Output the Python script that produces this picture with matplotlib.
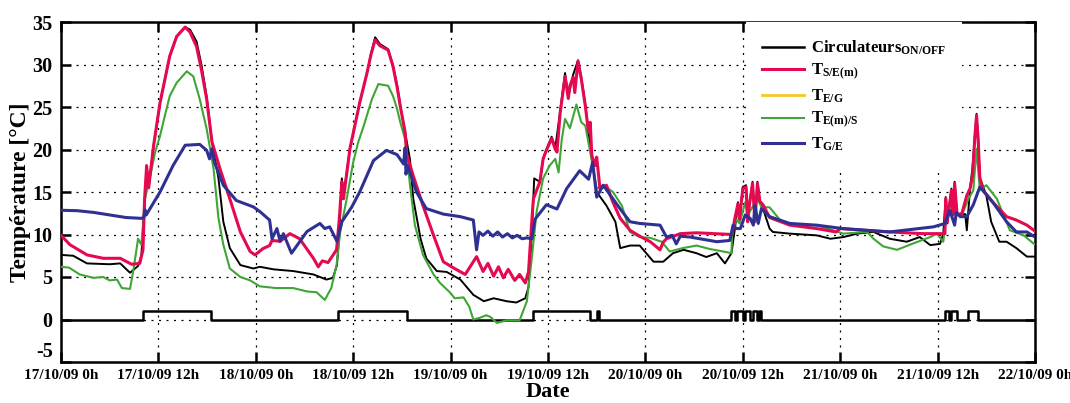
import numpy as np
import matplotlib
matplotlib.use("Agg")
import matplotlib.pyplot as plt

# ---------------- data (hours since 17/10/09 0h) ----------------
x_tick_hours = [0, 12, 24, 36, 48, 60, 72, 84, 96, 108, 120]
x_tick_labels = ["17/10/09 0h", "17/10/09 12h", "18/10/09 0h", "18/10/09 12h",
                 "19/10/09 0h", "19/10/09 12h", "20/10/09 0h", "20/10/09 12h",
                 "21/10/09 0h", "21/10/09 12h", "22/10/09 0h"]
y_ticks = [-5, 0, 5, 10, 15, 20, 25, 30, 35]

# circulators ON periods (start, end) in hours
circ_on_start = [10.1, 34.1, 58.1, 66.0, 82.6, 83.3, 84.3, 85.3, 86.0, 108.9, 109.6, 111.7]
circ_on_end = [18.5, 42.6, 65.2, 66.3, 83.0, 84.0, 84.9, 85.7, 86.3, 109.4, 110.4, 113.0]

# black temperature curve
t_noir_h = [0, 1.5, 3.2, 6.0, 7.3, 8.5, 9.5, 9.9, 10.35, 10.55, 10.8, 11.4, 12.2, 13.4, 14.25,
            15.3, 15.9, 16.7, 17.3, 17.95, 18.6, 19.4, 20.0, 20.8, 22.1, 23.7, 24.5, 26.2,
            28.6, 31.1, 32.7, 33.5, 34.0, 34.3, 34.6, 34.8, 35.6, 36.8, 37.7, 38.2, 38.7,
            39.3, 40.3, 40.9, 41.4, 41.8, 42.4, 43.0, 43.4, 44.3, 45.0, 46.3, 47.5, 49.2,
            50.8, 52.1, 53.3, 54.9, 56.1, 57.2, 57.6, 58.0, 58.3, 59.0, 59.4, 59.8, 60.45,
            60.9, 61.5, 62.1, 62.5, 63.1, 63.7, 64.1, 64.6, 65.0, 65.3, 66.0, 67.2, 68.3,
            68.9, 70.1, 71.3, 72.1, 73.0, 74.2, 75.4, 76.7, 78.3, 79.5, 80.8, 81.8, 82.6,
            83.0, 83.2, 83.4, 83.6, 84.0, 84.4, 84.6, 84.8, 85.2, 85.5, 85.8, 86.1, 86.5,
            87.3, 87.7, 89.8, 93.1, 94.8, 96.4, 98.1, 100.1, 102.1, 104.2, 105.8, 107.1,
            108.3, 108.7, 109.0, 109.2, 109.7, 109.9, 110.1, 110.4, 111.0, 111.4, 111.6,
            112.0, 112.3, 112.6, 112.8, 113.0, 113.2, 114.0, 114.6, 115.6, 116.5, 117.7,
            119.0, 120]
t_noir = [7.6, 7.5, 6.6, 6.5, 6.6, 5.5, 6.3, 7.5, 14.2, 18.1, 15.5, 20.4, 25.5, 31.0, 33.3,
          34.4, 34.1, 32.7, 30.0, 26.2, 20.9, 16.6, 11.5, 8.4, 6.4, 6.0, 6.2, 5.9,
          5.7, 5.3, 4.7, 4.9, 6.4, 10.3, 16.6, 14.5, 20.1, 25.5, 29.0, 31.3, 33.2,
          32.4, 31.8, 29.9, 27.6, 25.2, 22.0, 18.8, 14.2, 9.5, 7.2, 5.7, 5.6, 4.7,
          2.9, 2.15, 2.5, 2.15, 2.0, 2.5, 3.8, 10.0, 16.6, 16.2, 18.9, 20.0, 21.5,
          20.2, 24.5, 29.0, 26.2, 28.8, 30.5, 28.5, 25.3, 22.0, 19.5, 15.0, 13.4, 11.5,
          8.4, 8.7, 8.7, 7.8, 6.8, 6.8, 7.8, 8.2, 7.8, 7.35, 7.8, 6.6, 7.8,
          10.5, 12.0, 13.8, 11.8, 15.6, 15.8, 11.5, 13.4, 16.2, 11.5, 16.2, 13.9, 13.0,
          10.7, 10.3, 10.1, 9.9, 9.5, 9.7, 10.1, 10.3, 9.5, 9.15, 9.7, 8.75,
          8.9, 10.1, 14.4, 11.3, 15.4, 12.3, 16.2, 12.3, 12.4, 12.4, 10.5,
          15.4, 17.9, 21.8, 24.2, 21.2, 16.7, 14.6, 11.5, 9.15, 9.15, 8.4,
          7.4, 7.4]

# T_S/E(m)
t_se_h = [0, 1.1, 3.2, 5.2, 7.3, 8.7, 9.7, 10.1, 10.3, 10.55, 10.8, 11.4, 12.2, 13.4, 14.25,
          15.3, 15.9, 16.7, 17.3, 17.95, 18.6, 19.6, 20.8, 22.1, 23.3, 23.9, 24.9, 25.7,
          26.0, 27.0, 28.2, 29.4, 31.1, 31.7, 32.2, 32.9, 33.95, 34.3, 34.6, 34.8, 35.6,
          36.8, 37.7, 38.2, 38.7, 39.3, 40.3, 40.9, 41.4, 41.8, 42.4, 42.6, 43.4, 44.6,
          45.9, 47.1, 48.3, 49.8, 50.6, 51.2, 52.0, 52.6, 53.3, 53.9, 54.5, 55.1, 55.9,
          56.5, 57.2, 57.6, 58.0, 58.2, 59.0, 59.4, 59.8, 60.45, 60.9, 61.1, 61.5, 62.1,
          62.5, 62.7, 63.1, 63.3, 63.7, 64.1, 64.6, 65.0, 65.2, 65.4, 65.8, 66.0, 66.4,
          67.2, 68.0, 68.9, 70.1, 71.3, 72.6, 73.8, 74.2, 74.6, 76.3, 78.3, 80.4, 82.4,
          82.7, 83.0, 83.4, 83.6, 84.0, 84.4, 84.6, 84.8, 85.2, 85.5, 85.8, 86.1, 86.5,
          87.3, 89.8, 93.1, 95.5, 96.0, 102.1, 106.2, 108.3, 108.9, 109.0, 109.2, 109.7,
          109.9, 110.1, 110.4, 111.0, 111.6, 112.0, 112.3, 112.6, 112.8, 113.0, 113.2,
          113.6, 114.8, 116.5, 117.7, 119.0, 120]
t_se = [9.9, 8.8, 7.6, 7.2, 7.2, 6.5, 6.6, 8.2, 14.2, 18.1, 15.5, 20.4, 25.5, 31.0, 33.3,
        34.4, 33.8, 32.1, 29.4, 25.9, 20.9, 17.7, 14.2, 10.3, 8.0, 7.6, 8.35, 8.7,
        9.3, 9.2, 10.1, 9.5, 7.2, 6.2, 6.9, 6.7, 8.2, 12.0, 16.2, 14.2, 20.1,
        25.5, 29.0, 31.2, 32.9, 32.2, 31.7, 29.8, 27.4, 25.1, 22.0, 19.4, 16.9, 13.4,
        9.9, 6.8, 6.1, 5.3, 6.5, 7.4, 5.65, 6.6, 5.1, 6.2, 4.9, 5.9, 4.6,
        5.3, 4.3, 5.6, 11.5, 14.2, 16.2, 18.9, 19.9, 21.3, 20.0, 19.7, 24.3, 28.6,
        26.0, 27.5, 28.5, 26.7, 30.4, 28.3, 25.1, 22.0, 23.2, 19.3, 18.1, 19.1, 15.4,
        15.8, 13.8, 11.9, 10.5, 9.8, 9.15, 8.2, 9.1, 9.5, 10.1, 10.2, 10.1, 10.0,
        10.0, 11.8, 13.6, 11.8, 15.4, 15.6, 11.5, 13.4, 16.0, 11.5, 16.0, 13.9, 13.5,
        12.0, 11.1, 10.7, 10.3, 10.7, 10.3, 10.1, 10.1, 10.1, 14.2, 11.5, 15.2,
        12.3, 16.0, 12.3, 12.5, 14.6, 15.4, 16.9, 21.6, 24.0, 21.1, 16.7,
        15.2, 13.8, 12.1, 11.7, 11.1, 10.4]

# T_E(m)/S
t_es_h = [0, 1.0, 2.3, 4.0, 5.2, 6.0, 6.9, 7.5, 8.5, 8.9, 9.5, 9.9, 10.35, 11.0, 11.6, 12.2,
          12.8, 13.4, 14.25, 15.5, 16.3, 17.1, 17.95, 18.8, 19.4, 20.0, 20.8, 22.1, 23.3,
          24.5, 26.5, 28.6, 30.3, 31.5, 32.5, 33.3, 33.95, 34.4, 35.2, 36.0, 36.6, 37.3,
          38.3, 39.1, 40.3, 40.9, 41.4, 41.8, 42.4, 43.0, 43.6, 44.6, 45.9, 46.7, 47.9,
          48.5, 49.6, 50.3, 50.8, 51.6, 52.4, 52.9, 53.7, 54.9, 56.5, 57.4, 58.0, 58.6,
          59.4, 60.2, 60.9, 61.3, 61.7, 62.1, 62.7, 63.5, 64.1, 64.6, 65.2, 66.0, 66.8,
          68.0, 69.1, 70.1, 71.3, 72.6, 74.0, 75.0, 76.6, 78.3, 79.9, 81.6, 82.6, 82.7,
          83.2, 83.6, 84.3, 84.6, 85.3, 85.8, 86.3, 87.3, 88.6, 89.8, 93.1, 96.4, 99.3,
          100.1, 101.3, 103.0, 105.0, 107.1, 107.9, 108.7, 109.0, 109.3, 109.7, 110.1,
          110.3, 111.0, 111.8, 112.4, 112.8, 113.2, 114.0, 115.3, 116.9, 118.6, 120]
t_es = [6.2, 6.1, 5.3, 4.9, 5.0, 4.6, 4.7, 3.7, 3.6, 5.7, 9.5, 8.8, 14.2, 16.9, 19.7, 21.6,
        24.0, 26.3, 27.85, 29.2, 28.6, 25.9, 22.4, 17.7, 11.9, 8.8, 6.0, 5.0, 4.6,
        3.9, 3.7, 3.7, 3.3, 3.2, 2.3, 3.7, 6.4, 10.3, 14.2, 18.5, 20.8, 22.8,
        25.9, 27.7, 27.5, 26.3, 24.8, 23.2, 21.2, 15.8, 11.1, 7.6, 5.3, 4.3, 3.2,
        2.5, 2.6, 1.5, 0.0, 0.2, 0.5, 0.3, -0.4, -0.1, -0.1, 2.15, 7.2, 12.7,
        16.6, 18.1, 18.9, 17.3, 21.2, 23.6, 22.5, 25.3, 23.2, 22.8, 19.7, 15.4, 15.8,
        15.0, 13.4, 10.3, 9.7, 9.6, 9.15, 8.0, 8.4, 8.7, 8.3, 8.0, 7.8, 10.3,
        11.8, 11.3, 13.8, 12.3, 13.4, 14.2, 13.2, 13.2, 11.7, 11.1, 11.1, 10.1, 10.3,
        9.5, 8.6, 8.2, 8.95, 9.7, 10.1, 9.15, 11.5, 12.3, 12.3, 14.2,
        12.3, 12.3, 14.2, 15.2, 20.1, 15.2, 15.8, 14.2, 10.5, 9.9, 8.8]

# T_G/E
t_ge_h = [0, 2, 4, 6, 8, 9.9, 10.2, 10.35, 10.5, 12.2, 13.8, 15.3, 17.1, 17.95, 18.3, 18.6,
          18.9, 20.0, 21.6, 23.7, 24.5, 25.7, 26.0, 26.6, 27.0, 27.4, 28.4, 30.3, 31.9,
          32.5, 33.1, 34.0, 34.6, 35.8, 36.8, 38.5, 40.1, 41.4, 42.2, 42.4, 42.5, 42.7,
          43.8, 45.0, 47.1, 49.2, 50.8, 51.2, 51.5, 52.0, 52.6, 53.2, 53.8, 54.4, 55.0,
          55.6, 56.2, 56.8, 57.4, 58.0, 58.4, 59.8, 61.1, 62.3, 63.9, 65.0, 65.5, 66.0,
          66.8, 68.9, 70.1, 71.3, 73.8, 74.6, 75.3, 75.8, 76.3, 77.5, 80.8, 82.4, 82.8,
          83.2, 83.7, 84.3, 84.9, 85.3, 85.5, 85.9, 86.3, 87.3, 89.8, 93.1, 96.3, 102.1,
          107.5, 108.9, 109.5, 110.1, 110.3, 110.8, 111.6, 112.4, 113.2, 114.8, 116.5,
          117.7, 119.0, 120]
t_ge = [12.85, 12.8, 12.6, 12.3, 12.0, 11.9, 12.0, 12.9, 12.3, 15.0, 18.1, 20.5, 20.6, 19.9,
        18.9, 20.1, 18.5, 15.8, 14.0, 13.25, 12.7, 11.7, 9.5, 10.7, 9.2, 10.1, 7.8, 10.35,
        11.3, 10.7, 10.9, 9.2, 11.5, 13.2, 15.0, 18.7, 19.9, 19.4, 18.3, 20.2, 17.1,
        18.1, 15.0, 13.05, 12.4, 12.1, 11.7, 8.2, 10.3, 9.9, 10.4, 9.8, 10.3, 9.7,
        10.1, 9.6, 9.9, 9.5, 9.6, 9.5, 11.8, 13.5, 13.0, 15.4, 17.5, 16.5, 18.5,
        14.4, 15.8, 13.0, 11.5, 11.3, 11.1, 9.7, 9.9, 8.9, 9.8, 9.7, 9.15, 9.3,
        11.1, 10.7, 10.7, 12.3, 11.9, 11.1, 13.4, 11.3, 13.05, 12.1, 11.3, 11.1, 10.7,
        10.3, 10.9, 11.3, 12.85, 11.1, 12.6, 12.1, 12.1, 13.5, 15.6, 13.8, 11.5,
        10.3, 10.3, 9.7]

# T_E/G (hidden in the original figure; only appears in the legend)
t_eg_h = []
t_eg = []

# ---------------- style ----------------
plt.rcParams['font.family'] = ['Liberation Serif', 'DejaVu Serif']
plt.rcParams['font.weight'] = 'bold'
plt.rcParams['axes.unicode_minus'] = False
plt.rcParams['mathtext.fontset'] = 'custom'
plt.rcParams['mathtext.rm'] = 'Liberation Serif:bold'
plt.rcParams['mathtext.bf'] = 'Liberation Serif:bold'
plt.rcParams['mathtext.it'] = 'Liberation Serif:bold'

C_RED = '#E5094F'
C_YEL = '#F9C623'
C_GRN = '#3FA535'
C_BLU = '#2E3192'

fig = plt.figure(figsize=(10.7, 4.03), dpi=100)
ax = fig.add_axes([61 / 1070, 41 / 403, 974 / 1070, 340 / 403])

# circulators step series
ct = [0.0]
cv = [0]
for s, e in zip(circ_on_start, circ_on_end):
    ct += [s, s, e, e]
    cv += [0, 1, 1, 0]
ct.append(120.0)
cv.append(0)

ax.plot(ct, cv, color='black', lw=1.8, label=r'Circulateurs$_{\mathrm{ON/OFF}}$', zorder=3)
ax.plot(t_noir_h, t_noir, color='black', lw=1.4, zorder=3)
ax.plot(t_eg_h, t_eg, color=C_YEL, lw=2.0, label=r'$\mathrm{T_{E/G}}$', zorder=3)
ax.plot(t_es_h, t_es, color=C_GRN, lw=1.5, label=r'$\mathrm{T_{E(m)/S}}$', zorder=3)
ax.plot(t_se_h, t_se, color=C_RED, lw=2.2, label=r'$\mathrm{T_{S/E(m)}}$', zorder=4)
ax.plot(t_ge_h, t_ge, color=C_BLU, lw=2.2, label=r'$\mathrm{T_{G/E}}$', zorder=5)

ax.set_xlim(0, 120)
ax.set_ylim(-5, 35)
ax.set_xticks(x_tick_hours)
ax.set_xticklabels(x_tick_labels, fontsize=11, fontweight='bold')
ax.set_yticks(y_ticks)
ax.set_yticklabels([str(v) for v in y_ticks], fontsize=14.5, fontweight='bold')
ax.get_yticklabels()[0].set_va('bottom')
ax.tick_params(direction='in', length=7, width=1.8, top=True, right=True)
ax.tick_params(axis='x', pad=5)
ax.tick_params(axis='y', pad=6)
for sp in ax.spines.values():
    sp.set_linewidth(1.8)

ax.grid(True, color='black', linestyle=(0, (1.6, 4.4)), linewidth=0.9)
ax.set_axisbelow(True)

ax.set_xlabel('Date', fontsize=16, fontweight='bold', labelpad=0)
ax.set_ylabel('Température [°C]', fontsize=17, fontweight='bold', labelpad=1)

handles, labels = ax.get_legend_handles_labels()
order = ['Circulateurs', 'S/E', 'E/G', 'E(m)/S', 'G/E']
hl = sorted(zip(handles, labels), key=lambda p: [i for i, k in enumerate(order) if k in p[1]][0])
leg = ax.legend([h for h, _ in hl], [l for _, l in hl], loc='upper left',
                bbox_to_anchor=(0.703, 1.0), frameon=True, fancybox=False,
                edgecolor='none', facecolor='white', framealpha=1, fontsize=12,
                handlelength=2.5, handletextpad=0.4, labelspacing=0.32,
                borderpad=1.0, borderaxespad=0)
leg.set_zorder(10)
for t in leg.get_texts():
    t.set_fontweight('bold')

fig.savefig('out.png', dpi=100)
